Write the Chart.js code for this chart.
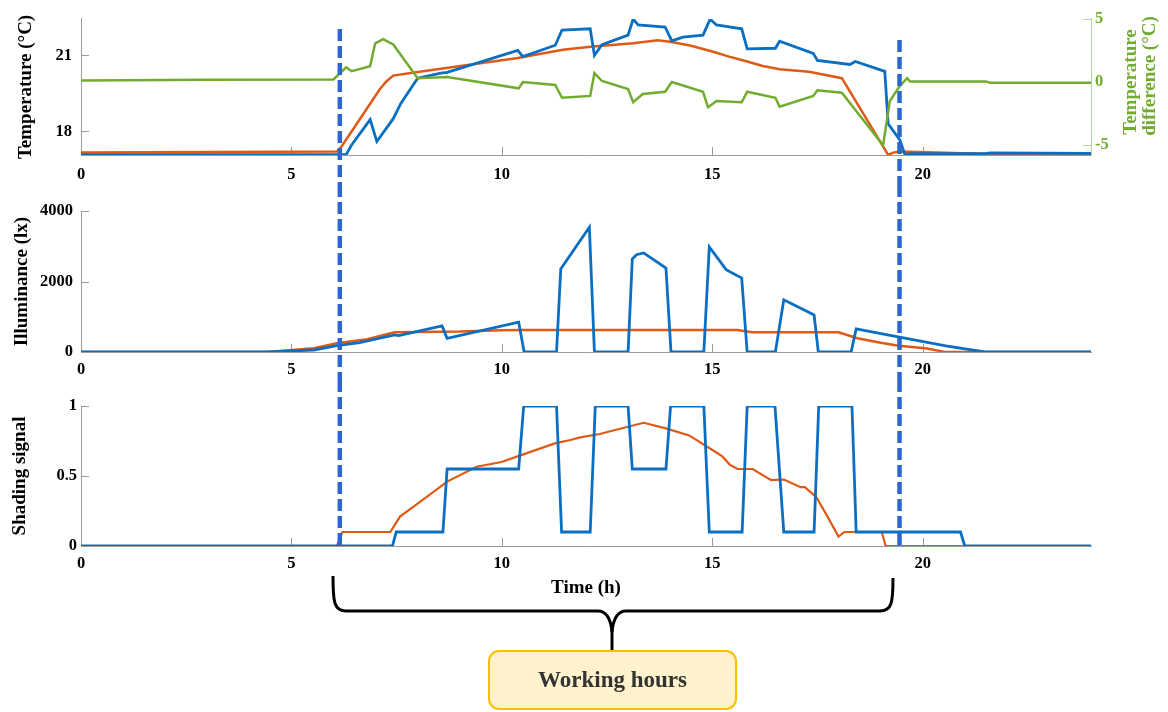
<!DOCTYPE html>
<html>
<head>
<meta charset="utf-8">
<script src="https://cdn.jsdelivr.net/npm/chart.js@4.4.1/dist/chart.umd.min.js"></script>
<style>
    body { margin: 0; background: #fff; }
    #wrap { position: relative; width: 1168px; height: 712px; background: #fff; overflow: hidden; }
    canvas, svg { position: absolute; left: 0; }
    .work-label {
        position: absolute; left: 489px; top: 651px; width: 247px; height: 58px;
        font: bold 23px "Liberation Serif", "Times New Roman", serif;
        line-height: 58px; text-align: center; color: #333;
    }
</style>
</head>
<body>
<div id="wrap">
    <canvas id="temp-chart" width="1168" height="185" style="top:0"></canvas>
    <canvas id="lux-chart" width="1168" height="195" style="top:185px"></canvas>
    <canvas id="shade-chart" width="1168" height="220" style="top:380px"></canvas>
    <svg width="1168" height="712" style="top:0">
        <path d="M333,576 C333,602 334,611 346,611 L598,611 Q610,611 612,632 Q614,611 626,611 L880,611 C892,611 893,602 893,578"
              fill="none" stroke="#000" stroke-width="3"/>
        <line x1="612" y1="630" x2="612" y2="652" stroke="#000" stroke-width="3"/>
        <rect x="489" y="651" width="247" height="58" rx="10" fill="#fff2cc" stroke="#ffc000" stroke-width="2"/>
    </svg>
    <div class="work-label">Working hours</div>
</div>
<script>
// данные
const timeTicks = [0, 5, 10, 15, 20];
const workingHours = [6.15, 19.45];

const tempBlueT = [0, 6.3, 6.43, 6.87, 7.03, 7.42, 7.6, 8.0, 8.55, 8.7, 10.38, 10.5, 11.27, 11.43, 12.1, 12.2, 12.38, 13.0, 13.12, 13.24, 13.88, 14.04, 14.3, 14.78, 14.95, 15.1, 15.7, 15.83, 16.5, 16.6, 17.4, 17.5, 18.27, 18.4, 19.1, 19.18, 19.46, 19.58, 19.7, 21.5, 21.6, 24];
const tempBlueV = [17.08, 17.08, 17.46, 18.46, 17.6, 18.5, 19.1, 20.1, 20.3, 20.33, 21.2, 20.95, 21.4, 22.0, 22.05, 21.0, 21.42, 21.8, 22.43, 22.2, 22.12, 21.57, 21.72, 21.8, 22.43, 22.2, 22.05, 21.26, 21.28, 21.56, 21.08, 20.8, 20.64, 20.76, 20.37, 18.3, 17.65, 17.07, 17.12, 17.12, 17.15, 17.13];
const tempOrangeT = [0, 6.08, 6.2, 7.1, 7.26, 7.42, 8.0, 10.38, 11.45, 12.17, 13.12, 13.7, 14.0, 14.5, 15.0, 15.4, 15.83, 16.2, 16.6, 17.3, 18.08, 19.18, 19.3, 19.46, 21.6, 24];
const tempOrangeV = [17.16, 17.2, 17.42, 19.66, 19.98, 20.2, 20.34, 20.9, 21.22, 21.35, 21.48, 21.6, 21.54, 21.38, 21.15, 20.95, 20.76, 20.58, 20.45, 20.35, 20.1, 17.07, 17.16, 17.2, 17.1, 17.1];
const tempDiffT = [0, 3, 6.0, 6.3, 6.43, 6.87, 6.99, 7.18, 7.38, 7.42, 8.0, 8.7, 10.4, 10.5, 11.27, 11.43, 12.1, 12.2, 12.38, 13.0, 13.12, 13.35, 13.88, 14.04, 14.78, 14.9, 15.1, 15.7, 15.83, 16.5, 16.6, 17.4, 17.5, 18.08, 18.35, 19.06, 19.22, 19.46, 19.63, 19.7, 21.5, 21.6, 24];
const tempDiffV = [0.12, 0.18, 0.2, 1.17, 0.86, 1.25, 3.07, 3.4, 3.05, 2.97, 0.3, 0.39, -0.5, 0, -0.23, -1.25, -1.1, 0.7, 0.08, -0.55, -1.6, -0.95, -0.77, 0, -0.77, -2.0, -1.5, -1.6, -0.77, -1.25, -1.95, -1.1, -0.65, -0.85, -2.0, -5.0, -1.5, -0.3, 0.3, 0.05, 0.05, -0.05, -0.05];

const luxBlueT = [0, 4.44, 5.53, 6.08, 6.62, 7.45, 7.55, 8.58, 8.7, 10.4, 10.53, 11.3, 11.4, 12.08, 12.2, 13.0, 13.1, 13.2, 13.37, 13.9, 14.02, 14.8, 14.93, 15.33, 15.7, 15.83, 16.5, 16.7, 17.42, 17.52, 18.3, 18.42, 19.48, 20.55, 21.48, 24];
const luxBlueV = [0, 0, 57, 180, 265, 484, 465, 740, 390, 845, 0, 0, 2354, 3540, 0, 0, 2640, 2760, 2810, 2380, 0, 0, 2980, 2335, 2097, 0, 0, 1480, 1053, 0, 0, 655, 418, 171, 0, 0];
const luxOrangeT = [0, 4.44, 5.53, 6.08, 6.8, 7.45, 9.0, 10.0, 10.5, 15.6, 15.95, 18.0, 18.45, 19.0, 19.43, 20.06, 20.5, 20.7, 24];
const luxOrangeV = [0, 0, 105, 247, 360, 560, 580, 620, 626, 626, 560, 560, 390, 265, 180, 105, 10, 0, 0];

const shadeBlueT = [0, 7.4, 7.49, 8.6, 8.7, 10.4, 10.52, 11.3, 11.42, 12.1, 12.22, 13.0, 13.1, 13.9, 14.01, 14.8, 14.93, 15.71, 15.83, 16.49, 16.7, 17.42, 17.53, 18.32, 18.42, 20.9, 21.0, 24];
const shadeBlueV = [0, 0, 0.1, 0.1, 0.55, 0.55, 1, 1, 0.1, 0.1, 1, 1, 0.55, 0.55, 1, 1, 0.1, 0.1, 1, 1, 0.1, 0.1, 1, 1, 0.1, 0.1, 0, 0];
const shadeOrangeT = [0, 6.08, 6.21, 7.35, 7.58, 8.08, 8.7, 9.4, 9.99, 10.63, 11.26, 11.63, 11.86, 12.33, 12.53, 13.37, 13.9, 14.45, 14.93, 15.24, 15.42, 15.6, 15.96, 16.4, 16.7, 17.1, 17.2, 17.47, 17.74, 18.0, 18.14, 19.03, 19.12, 24];
const shadeOrangeV = [0, 0, 0.1, 0.1, 0.21, 0.32, 0.46, 0.566, 0.6, 0.667, 0.733, 0.757, 0.776, 0.8, 0.816, 0.88, 0.84, 0.79, 0.7, 0.64, 0.58, 0.55, 0.55, 0.47, 0.475, 0.42, 0.42, 0.35, 0.21, 0.067, 0.1, 0.1, 0, 0];

const BLUE = '#0a6fc2';
const ORANGE = '#df5a17';
const GREEN = '#72ac2f';
const DASH = '#2d66cc';
const AXIS_GREY = '#9a9a9a';
const FONT = '"Liberation Serif", "Times New Roman", serif';
const tickFont = { family: FONT, size: 16.5, weight: 'bold' };
const titleFont = { family: FONT, size: 19, weight: 'bold' };

const toPoints = (ts, vs) => ts.map((t, i) => ({ x: t, y: vs[i] }));

const line = (ts, vs, color, width, order, axis = 'y') => ({
    data: toPoints(ts, vs),
    borderColor: color,
    borderWidth: width,
    pointRadius: 0,
    tension: 0,
    order,
    yAxisID: axis,
});

// метки внутрь области, как в matlab
const innerTicks = {
    id: 'innerTicks',
    beforeDatasetsDraw(chart) {
        const { ctx, chartArea: a } = chart;
        ctx.save();
        ctx.lineWidth = 1;
        Object.values(chart.scales).forEach((s) => {
            ctx.strokeStyle = s.options.border.color;
            s.ticks.forEach((t) => {
                const p = Math.round(s.getPixelForValue(t.value)) + 0.5;
                ctx.beginPath();
                if (s.axis === 'x') {
                    if (t.value === s.min) return;
                    ctx.moveTo(p, a.bottom);
                    ctx.lineTo(p, a.bottom - 8);
                } else if (s.position === 'left') {
                    ctx.moveTo(a.left, p);
                    ctx.lineTo(a.left + 8, p);
                } else {
                    ctx.moveTo(a.right, p);
                    ctx.lineTo(a.right - 8, p);
                }
                ctx.stroke();
            });
        });
        ctx.restore();
    },
};

// пунктир рабочих часов
const workLines = (tops, bottom) => ({
    id: 'workLines',
    afterDatasetsDraw(chart) {
        const { ctx, scales: { x } } = chart;
        ctx.save();
        ctx.strokeStyle = DASH;
        ctx.lineWidth = 4.5;
        ctx.setLineDash([12, 5]);
        workingHours.forEach((h, i) => {
            const px = x.getPixelForValue(h);
            ctx.beginPath();
            ctx.moveTo(px, tops[i]);
            ctx.lineTo(px, bottom);
            ctx.stroke();
        });
        ctx.restore();
    },
});

// подпись правой оси (повернута как у левой)
const rightTitle = {
    id: 'rightTitle',
    afterDraw(chart) {
        const { ctx } = chart;
        ctx.save();
        ctx.fillStyle = GREEN;
        ctx.font = `bold 19px ${FONT}`;
        ctx.textAlign = 'center';
        ctx.textBaseline = 'middle';
        [['Temperature', 1131, 82], ['difference (°C)', 1150, 76]].forEach(([text, x, y]) => {
            ctx.save();
            ctx.translate(x, y);
            ctx.rotate(-Math.PI / 2);
            ctx.fillText(text, 0, 0);
            ctx.restore();
        });
        ctx.restore();
    },
};

const xScale = (height, pad, title) => ({
    type: 'linear',
    min: 0,
    max: 24,
    afterBuildTicks: (s) => { s.ticks = timeTicks.map((v) => ({ value: v })); },
    afterFit: (s) => { s.height = height; },
    grid: { display: false, drawTicks: false },
    border: { color: AXIS_GREY, width: 1 },
    ticks: { font: tickFont, color: '#000', padding: pad, maxRotation: 0, autoSkip: false, callback: (v) => String(v) },
    title: title
        ? { display: true, text: title, font: titleFont, color: '#000', padding: { top: 0, bottom: 1 } }
        : { display: false },
});

const yScale = (min, max, ticks, pad, title, titlePad) => ({
    type: 'linear',
    position: 'left',
    min,
    max,
    afterBuildTicks: (s) => { s.ticks = ticks.map((v) => ({ value: v })); },
    afterFit: (s) => { s.width = 81; },
    grid: { display: false, drawTicks: false },
    border: { color: AXIS_GREY, width: 1 },
    ticks: { font: tickFont, color: '#000', padding: pad, autoSkip: false, callback: (v) => String(v) },
    title: { display: true, text: title, font: titleFont, color: '#000', padding: { top: titlePad, bottom: 0 } },
});

const baseOptions = (padTop, padRight, scales) => ({
    responsive: false,
    animation: false,
    devicePixelRatio: 1,
    layout: { padding: { top: padTop, right: padRight, left: 0, bottom: 0 } },
    plugins: { legend: { display: false }, tooltip: { enabled: false } },
    scales,
});

new Chart(document.getElementById('temp-chart'), {
    type: 'line',
    data: {
        datasets: [
            line(tempOrangeT, tempOrangeV, ORANGE, 2.5, 3),
            line(tempBlueT, tempBlueV, BLUE, 2.8, 2),
            line(tempDiffT, tempDiffV, GREEN, 2.5, 1, 'y1'),
        ],
    },
    options: baseOptions(17, 0, {
        x: xScale(30, 10),
        y: yScale(17.065, 22.44, [18, 21], 9, 'Temperature (°C)', 15),
        y1: {
            type: 'linear',
            position: 'right',
            min: -5.78,
            max: 5,
            afterBuildTicks: (s) => { s.ticks = [-5, 0, 5].map((v) => ({ value: v })); },
            afterFit: (s) => { s.width = 77; },
            grid: { display: false, drawTicks: false },
            border: { color: '#b3d59a', width: 1 },
            ticks: { font: tickFont, color: GREEN, padding: 4, callback: (v) => String(v) },
            title: { display: false },
        },
    }),
    plugins: [innerTicks, workLines([29, 40], 185), rightTitle],
});

new Chart(document.getElementById('lux-chart'), {
    type: 'line',
    data: {
        datasets: [
            line(luxOrangeT, luxOrangeV, ORANGE, 2.5, 2),
            line(luxBlueT, luxBlueV, BLUE, 2.8, 1),
        ],
    },
    options: baseOptions(26, 77, {
        x: xScale(28, 8),
        y: yScale(0, 4000, [0, 2000, 4000], 8, 'Illuminance (lx)', 11),
    }),
    plugins: [innerTicks, workLines([0, 0], 195)],
});

new Chart(document.getElementById('shade-chart'), {
    type: 'line',
    data: {
        datasets: [
            line(shadeOrangeT, shadeOrangeV, ORANGE, 2.2, 2),
            line(shadeBlueT, shadeBlueV, BLUE, 2.8, 1),
        ],
    },
    options: baseOptions(26, 77, {
        x: xScale(54, 8, 'Time (h)'),
        y: yScale(0, 1, [0, 0.5, 1], 4, 'Shading signal', 9),
    }),
    plugins: [innerTicks, workLines([0, 0], 168)],
});
</script>
</body>
</html>
